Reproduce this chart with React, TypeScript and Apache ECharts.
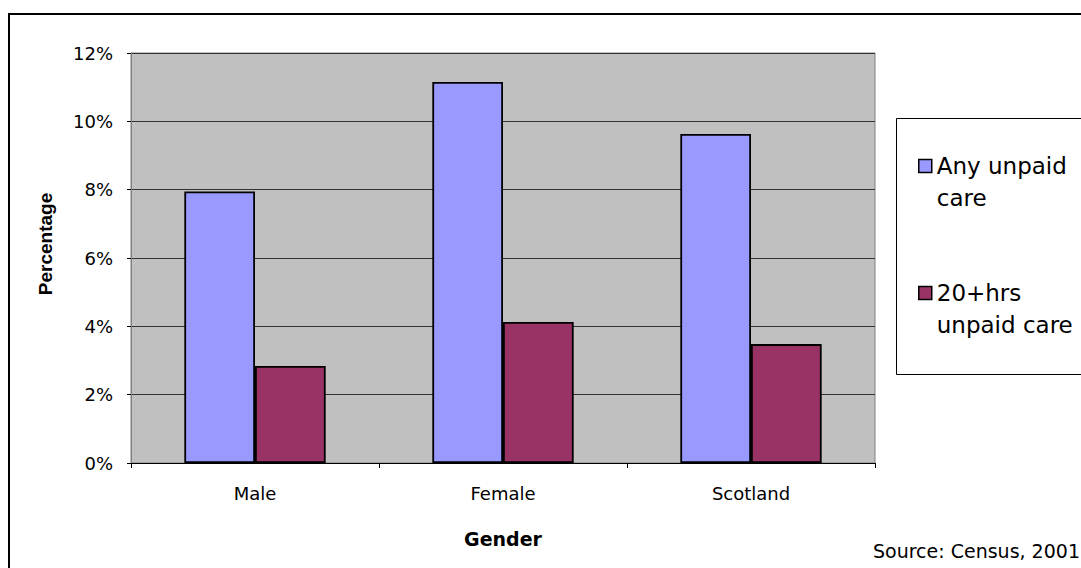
import React, { useEffect, useRef } from "react";
import * as echarts from "echarts";

const categories = ["Male", "Female", "Scotland"];
const anyUnpaid = [7.95, 11.15, 9.63];
const hrs20Unpaid = [2.84, 4.13, 3.48];
const seriesNames = ["Any unpaid care", "20+hrs unpaid care"];
const legendLabels: Record<string, string> = {
  "Any unpaid care": "\nAny unpaid\ncare",
  "20+hrs unpaid care": "\n20+hrs\nunpaid care",
};
const yTicks = { min: 0, max: 12, interval: 2 };

const WIDE = "'DejaVu Sans', 'Liberation Sans', Arial, sans-serif";
const NARROW = "'Liberation Sans', Arial, sans-serif";

export default function App() {
  const ref = useRef<HTMLDivElement>(null);
  useEffect(() => {
    if (!ref.current) return;
    const chart = echarts.init(ref.current, null, { renderer: "svg" });
    chart.setOption({
      animation: false,
      backgroundColor: "#ffffff",
      textStyle: { fontFamily: WIDE },
      grid: {
        left: 131,
        top: 53,
        right: 206,
        bottom: 105,
        show: true,
        backgroundColor: "#C0C0C0",
        borderColor: "#808080",
        borderWidth: 1,
      },
      legend: {
        orient: "vertical",
        left: 918,
        top: 118,
        padding: 0,
        itemWidth: 13,
        itemHeight: 13,
        itemGap: 31,
        icon: "rect",
        selectedMode: false,
        formatter: (n: string) => legendLabels[n] || n,
        textStyle: {
          fontFamily: WIDE,
          fontSize: 23,
          color: "#000",
          lineHeight: 32,
        },
        itemStyle: { borderColor: "#000", borderWidth: 1.5 },
      },
      xAxis: {
        type: "category",
        data: categories,
        name: "Gender",
        nameLocation: "middle",
        nameGap: 66,
        nameTextStyle: { fontFamily: WIDE, fontSize: 19, fontWeight: "bold", color: "#000" },
        axisLine: { lineStyle: { color: "#000", width: 1 } },
        axisTick: { show: true, length: 5, lineStyle: { color: "#000" } },
        axisLabel: { fontFamily: WIDE, fontSize: 18, color: "#000", margin: 21 },
      },
      yAxis: {
        type: "value",
        min: yTicks.min,
        max: yTicks.max,
        interval: yTicks.interval,
        name: "Percentage",
        nameLocation: "middle",
        nameRotate: 90,
        nameGap: 76,
        nameTextStyle: {
          fontFamily: NARROW,
          fontSize: 19,
          fontWeight: "bold",
          color: "#000",
          padding: [0, 0, 0, 28],
        },
        axisLine: { show: true, lineStyle: { color: "#808080", width: 1 } },
        axisTick: { show: true, length: 4, lineStyle: { color: "#000" } },
        axisLabel: { fontFamily: WIDE, fontSize: 18, color: "#000", margin: 18, formatter: "{value}%" },
        splitLine: { show: true, lineStyle: { color: "#333", width: 1 } },
      },
      series: [
        {
          name: seriesNames[0],
          type: "bar",
          data: anyUnpaid,
          barGap: "0%",
          barCategoryGap: "43%",
          itemStyle: { color: "#9999FF", borderColor: "#000", borderWidth: 1.8 },
        },
        {
          name: seriesNames[1],
          type: "bar",
          data: hrs20Unpaid,
          barGap: "0%",
          barCategoryGap: "43%",
          itemStyle: { color: "#993366", borderColor: "#000", borderWidth: 1.8 },
        },
      ],
      graphic: [
        {
          type: "rect",
          silent: true,
          z: -1,
          shape: { x: 9, y: 14, width: 1200, height: 700 },
          style: { fill: "none", stroke: "#000", lineWidth: 2 },
        },
        {
          type: "rect",
          silent: true,
          z: -1,
          shape: { x: 896.5, y: 118.5, width: 300, height: 256 },
          style: { fill: "#fff", stroke: "#000", lineWidth: 1 },
        },
        {
          type: "text",
          left: 873,
          top: 541,
          style: { text: "Source: Census, 2001", fontFamily: WIDE, fontSize: 19, fill: "#000" },
        },
      ],
    });
    return () => chart.dispose();
  }, []);
  return (
    <div
      ref={ref}
      style={{ position: "fixed", left: 0, top: 0, width: 1081, height: 568 }}
    />
  );
}
